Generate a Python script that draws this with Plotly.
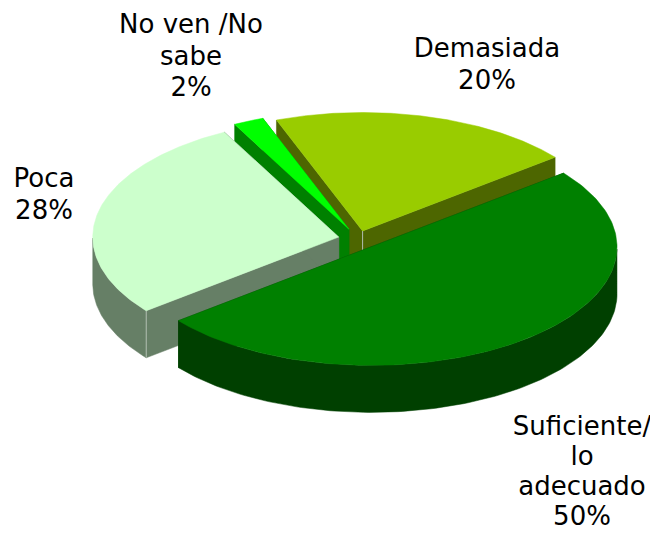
import numpy as np
import plotly.graph_objects as go

categories = ["Demasiada", "Suficiente/ lo adecuado", "Poca", "No ven /No sabe"]
percent = [20, 50, 28, 2]
label_lines = [
    ["Demasiada", "20%"],
    ["Suficiente/", "lo", "adecuado", "50%"],
    ["Poca", "28%"],
    ["No ven /No", "sabe", "2%"],
]
top_colors = ["#99CC00", "#008000", "#CCFFCC", "#00FF00"]
side_colors = ["#4D6600", "#004000", "#667F66", "#008000"]
explode = [0.07, 0.085, 0.08, 0.09]

# 3-D pie projection (pixel space of the 658x533 page)
CX, CY = 358, 239
RX, RY = 246, 118.5
DEPTH = 47
START = 110.5
draw_order = [0, 3, 2, 1]
label_pos = [(487, 50.5), (582, 428), (44, 180.5), (191, 26.5)]
label_pitch = [31.6, 30.2, 31.6, 31.6]
FONT = dict(family="DejaVu Sans, Arial, sans-serif", size=26, color="black")
HIGHLIGHT = "#B0BDB0"
PAGE_MARGIN = 8  # the page body offsets the plot

fig = go.Figure()
angles = START - np.concatenate([[0], np.cumsum(percent)]) * 3.6


def poly(x, y, color):
    fig.add_trace(go.Scatter(x=x, y=y, mode="lines", fill="toself", fillcolor=color,
                             line=dict(color=color, width=0.5), hoverinfo="skip",
                             showlegend=False))


def edge(x, y0, y1):
    fig.add_trace(go.Scatter(x=[x, x], y=[y0, y1], mode="lines",
                             line=dict(color=HIGHLIGHT, width=1),
                             hoverinfo="skip", showlegend=False))


for i in draw_order:
    a0, a1 = angles[i], angles[i + 1]
    mid = np.radians((a0 + a1) / 2)
    ax = CX + explode[i] * RX * np.cos(mid)
    ay = CY - explode[i] * RY * np.sin(mid)
    t = np.radians(np.linspace(a0, a1, 160))
    rimx = ax + RX * np.cos(t)
    rimy = ay - RY * np.sin(t)
    # radial cut faces
    for k in (0, -1):
        poly([ax, rimx[k], rimx[k], ax, ax],
             [ay, rimy[k], rimy[k] + DEPTH, ay + DEPTH, ay], side_colors[i])
    # outer wall, only the part turned to the viewer
    front = np.sin(t) <= 0
    if front.any():
        fx, fy = rimx[front], rimy[front]
        poly(np.concatenate([fx, fx[::-1], fx[:1]]),
             np.concatenate([fy, fy[::-1] + DEPTH, fy[:1]]), side_colors[i])
    # thin light line where two side faces meet
    if categories[i] == "Poca":
        edge(rimx[0], rimy[0], rimy[0] + DEPTH)
    if categories[i] == "Demasiada":
        edge(ax, ay, ay + DEPTH)
    # top face
    poly(np.concatenate([[ax], rimx, [ax]]), np.concatenate([[ay], rimy, [ay]]), top_colors[i])

tx, ty, tt = [], [], []
for lines, (x, y), pitch in zip(label_lines, label_pos, label_pitch):
    for n, line in enumerate(lines):
        tx.append(x)
        ty.append(y + n * pitch)
        tt.append(line)
fig.add_trace(go.Scatter(x=tx, y=ty, text=tt, mode="text", textposition="middle center",
                         textfont=FONT, hoverinfo="skip", showlegend=False, cliponaxis=False))

fig.update_layout(
    width=658 - PAGE_MARGIN, height=533 - PAGE_MARGIN, margin=dict(l=0, r=0, t=0, b=0),
    paper_bgcolor="white", plot_bgcolor="white", showlegend=False,
    xaxis=dict(range=[PAGE_MARGIN, 658], visible=False, fixedrange=True),
    yaxis=dict(range=[533, PAGE_MARGIN], visible=False, fixedrange=True),
)
fig.write_html("out.html", config=dict(displayModeBar=False))
